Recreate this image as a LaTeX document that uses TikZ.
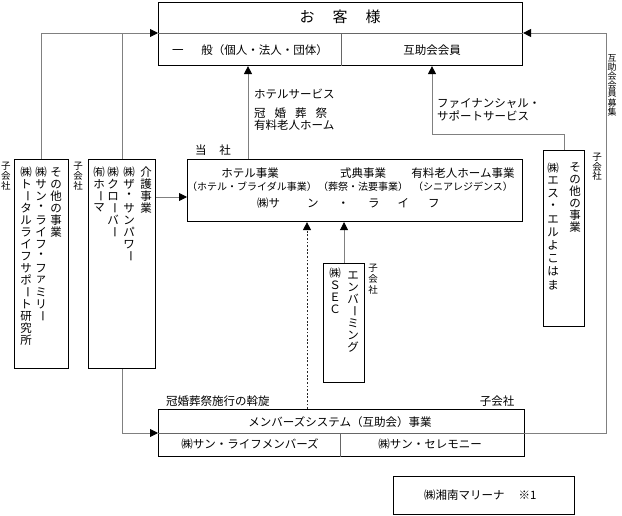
\documentclass[tikz,border=0pt]{standalone}
\usepackage{fontspec}
\usepackage{graphicx}
\setmainfont{Noto Sans CJK JP}
\usetikzlibrary{arrows.meta}
\newlength\vpitch
\makeatletter
\def\vst@end{\vst@end@}
\newcommand\vstack[2][12pt]{\setlength\vpitch{#1}\vbox{\offinterlineskip\vst@loop#2\vst@end}}
\def\vst@loop#1{\ifx#1\vst@end\else\vst@cell{#1}\expandafter\vst@loop\fi}
\def\vst@cell#1{\vbox to\vpitch{\vss\hbox to 1.2em{\hss\vst@glyph{#1}\hss}\vss}}
\def\vst@glyph#1{\ifx#1ー\rotatebox[origin=c]{-90}{ー}\else#1\fi}
\makeatother
\begin{document}
\begin{tikzpicture}[x=1pt,y=-1pt,
  box/.style={draw=black, line width=1.1pt, inner sep=0pt, anchor=north west},
  div/.style={draw=black!60, line width=0.9pt},
  conn/.style={draw=black!50, line width=0.9pt},
  dots/.style={draw=black!85, line width=0.9pt, dash pattern=on 1.8pt off 1.8pt},
  tip/.style={-{Triangle[length=8pt,width=8pt,color=black]}},
  lbl/.style={inner sep=0pt, font=\fontsize{11.5}{13}\selectfont},
  plbl/.style={inner sep=0pt, font=\fontsize{10}{12}\selectfont},
  vlbl/.style={inner sep=0pt, anchor=north, font=\fontsize{11.5}{13}\selectfont},
  slbl/.style={inner sep=0pt, anchor=north, font=\fontsize{9.5}{11}\selectfont}]
\useasboundingbox (0,0) rectangle (622,516);

% boxes
\node[box, minimum width=364pt, minimum height=63pt] (cust) at (158,2) {};
\node[box, minimum width=335pt, minimum height=62pt] (sun) at (187,159) {};
\node[box, minimum width=54pt, minimum height=209pt] (oth) at (14,159) {};
\node[box, minimum width=67pt, minimum height=209pt] (care) at (88,159) {};
\node[box, minimum width=41pt, minimum height=119pt] (sec) at (323,263) {};
\node[box, minimum width=41pt, minimum height=176pt] (sly) at (543,150) {};
\node[box, minimum width=366pt, minimum height=47pt] (mem) at (158,409) {};
\node[box, minimum width=181pt, minimum height=38pt] (mar) at (393,476) {};

% helper coordinates
\coordinate (yc) at (0,33);
\coordinate (ys) at (0,197);
\coordinate (ym) at (0,433);
\coordinate (yf) at (0,134);
\coordinate (xa) at (248,0);
\coordinate (xb) at (432,0);
\coordinate (xd) at (307,0);
\coordinate (xt) at (341,0);
\coordinate (xv) at (340,0);
\coordinate (rc) at (606,33);

% dividers
\draw[div] (cust.west |- yc) -- (cust.east |- yc);
\draw[div] (cust.south -| xt) -- (xt |- yc);
\draw[div] (mem.west |- ym) -- (mem.east |- ym);
\draw[div] (mem.south -| xv) -- (xv |- ym);

% connectors
\draw[conn,tip] (oth.north) |- (cust.west |- yc);
\draw[conn] (care.north) -- (care.north |- yc);
\draw[conn,tip] (care.east |- ys) -- (sun.west |- ys);
\draw[conn,tip] (care.south) |- (mem.west |- ym);
\draw[conn,tip] (sun.north -| xa) -- (cust.south -| xa);
\draw[conn,tip] (sly.north) |- (xb |- yf) -- (cust.south -| xb);
\draw[conn,tip] (mem.east |- ym) -| (rc) -- (cust.east |- rc);
\draw[conn,tip] (sec.north) -- (sun.south -| sec.north);
\draw[dots,tip] (mem.north -| xd) -- (sun.south -| xd);

% top box texts
\node[inner sep=0pt, font=\fontsize{15}{17}\selectfont] (t0) at (340,17) {お\hspace{18pt}客\hspace{18pt}様};
\node[lbl] (t1) at (250,50) {一\hspace{18pt}般（個人・法人・団体）};
\node[lbl] (t2) at (432,50) {互助会会員};

% labels between boxes
\node[lbl, anchor=west] (t4) at (254,94) {ホテルサービス};
\node[lbl, anchor=west] (t5) at (254,113) {冠\hspace{9pt}婚\hspace{9pt}葬\hspace{9pt}祭};
\node[lbl, anchor=west] (t6) at (254,125) {有料老人ホーム};
\node[lbl, anchor=west] (t7) at (437,104) {ファイナンシャル・};
\node[lbl, anchor=west] (t8) at (437,116) {サポートサービス};
\node[lbl] (t3) at (213,150) {当\hspace{13pt}社};

% middle box texts
\node[lbl] (t9) at (250,173) {ホテル事業};
\node[plbl] (t10) at (252,187) {（ホテル・ブライダル事業）};
\node[lbl] (t11) at (363,173) {式典事業};
\node[plbl] (t12) at (363,187) {（葬祭・法要事業）};
\node[lbl] (t13) at (463,173) {有料老人ホーム事業};
\node[plbl] (t14) at (463,187) {（シニアレジデンス）};
\node[lbl, anchor=west] (t15) at (257,203) {㈱サ\hspace{27pt}ン\hspace{19pt}・\hspace{19pt}ラ\hspace{18pt}イ\hspace{19pt}フ};

% bottom texts
\node[lbl, anchor=west] (t19) at (166,401) {冠婚葬祭施行の斡旋};
\node[lbl] (t20) at (497,401) {子会社};
\node[lbl] (t16) at (340,422) {メンバーズシステム（互助会）事業};
\node[lbl] (t17) at (250,444) {㈱サン・ライフメンバーズ};
\node[lbl] (t18) at (430,444) {㈱サン・セレモニー};
\node[lbl, anchor=west] (t21) at (424,495) {㈱湘南マリーナ\hspace{14pt}※1};

% vertical texts: left boxes
\node[slbl] (v0) at (6,161) {\vstack[10pt]{子会社}};
\node[vlbl] (v1) at (56,166) {\vstack{その他の事業}};
\node[vlbl] (v2) at (41,166) {\vstack{㈱サン・ライフ・ファミリー}};
\node[vlbl] (v3) at (26,166) {\vstack{㈱トータルライフサポート研究所}};
\node[slbl] (v4) at (78,161) {\vstack[10pt]{子会社}};
\node[vlbl] (v5) at (146,166) {\vstack{介護事業}};
\node[vlbl] (v6) at (129,166) {\vstack{㈱ザ・サンパワー}};
\node[vlbl] (v7) at (113,166) {\vstack{㈱クローバー}};
\node[vlbl] (v8) at (99,166) {\vstack{㈲ホーマ}};

% SEC box
\node[vlbl] (v9) at (353,269) {\vstack{エンバーミング}};
\node[vlbl] (v10) at (335,267) {\vstack{㈱ＳＥＣ}};
\node[slbl] (v11) at (373,263) {\vstack[10.5pt]{子会社}};

% right box
\node[vlbl] (v12) at (575,161) {\vstack{その他の事業}};
\node[vlbl] (v13) at (553,161) {\vstack[13pt]{㈱エス・エルよこはま}};
\node[slbl] (v14) at (597,152) {\vstack[9.5pt]{子会社}};
\node[slbl, font=\fontsize{9}{10}\selectfont] (v15) at (612,53) {\vstack[9pt]{互助会会員募集}};
\end{tikzpicture}
\end{document}
